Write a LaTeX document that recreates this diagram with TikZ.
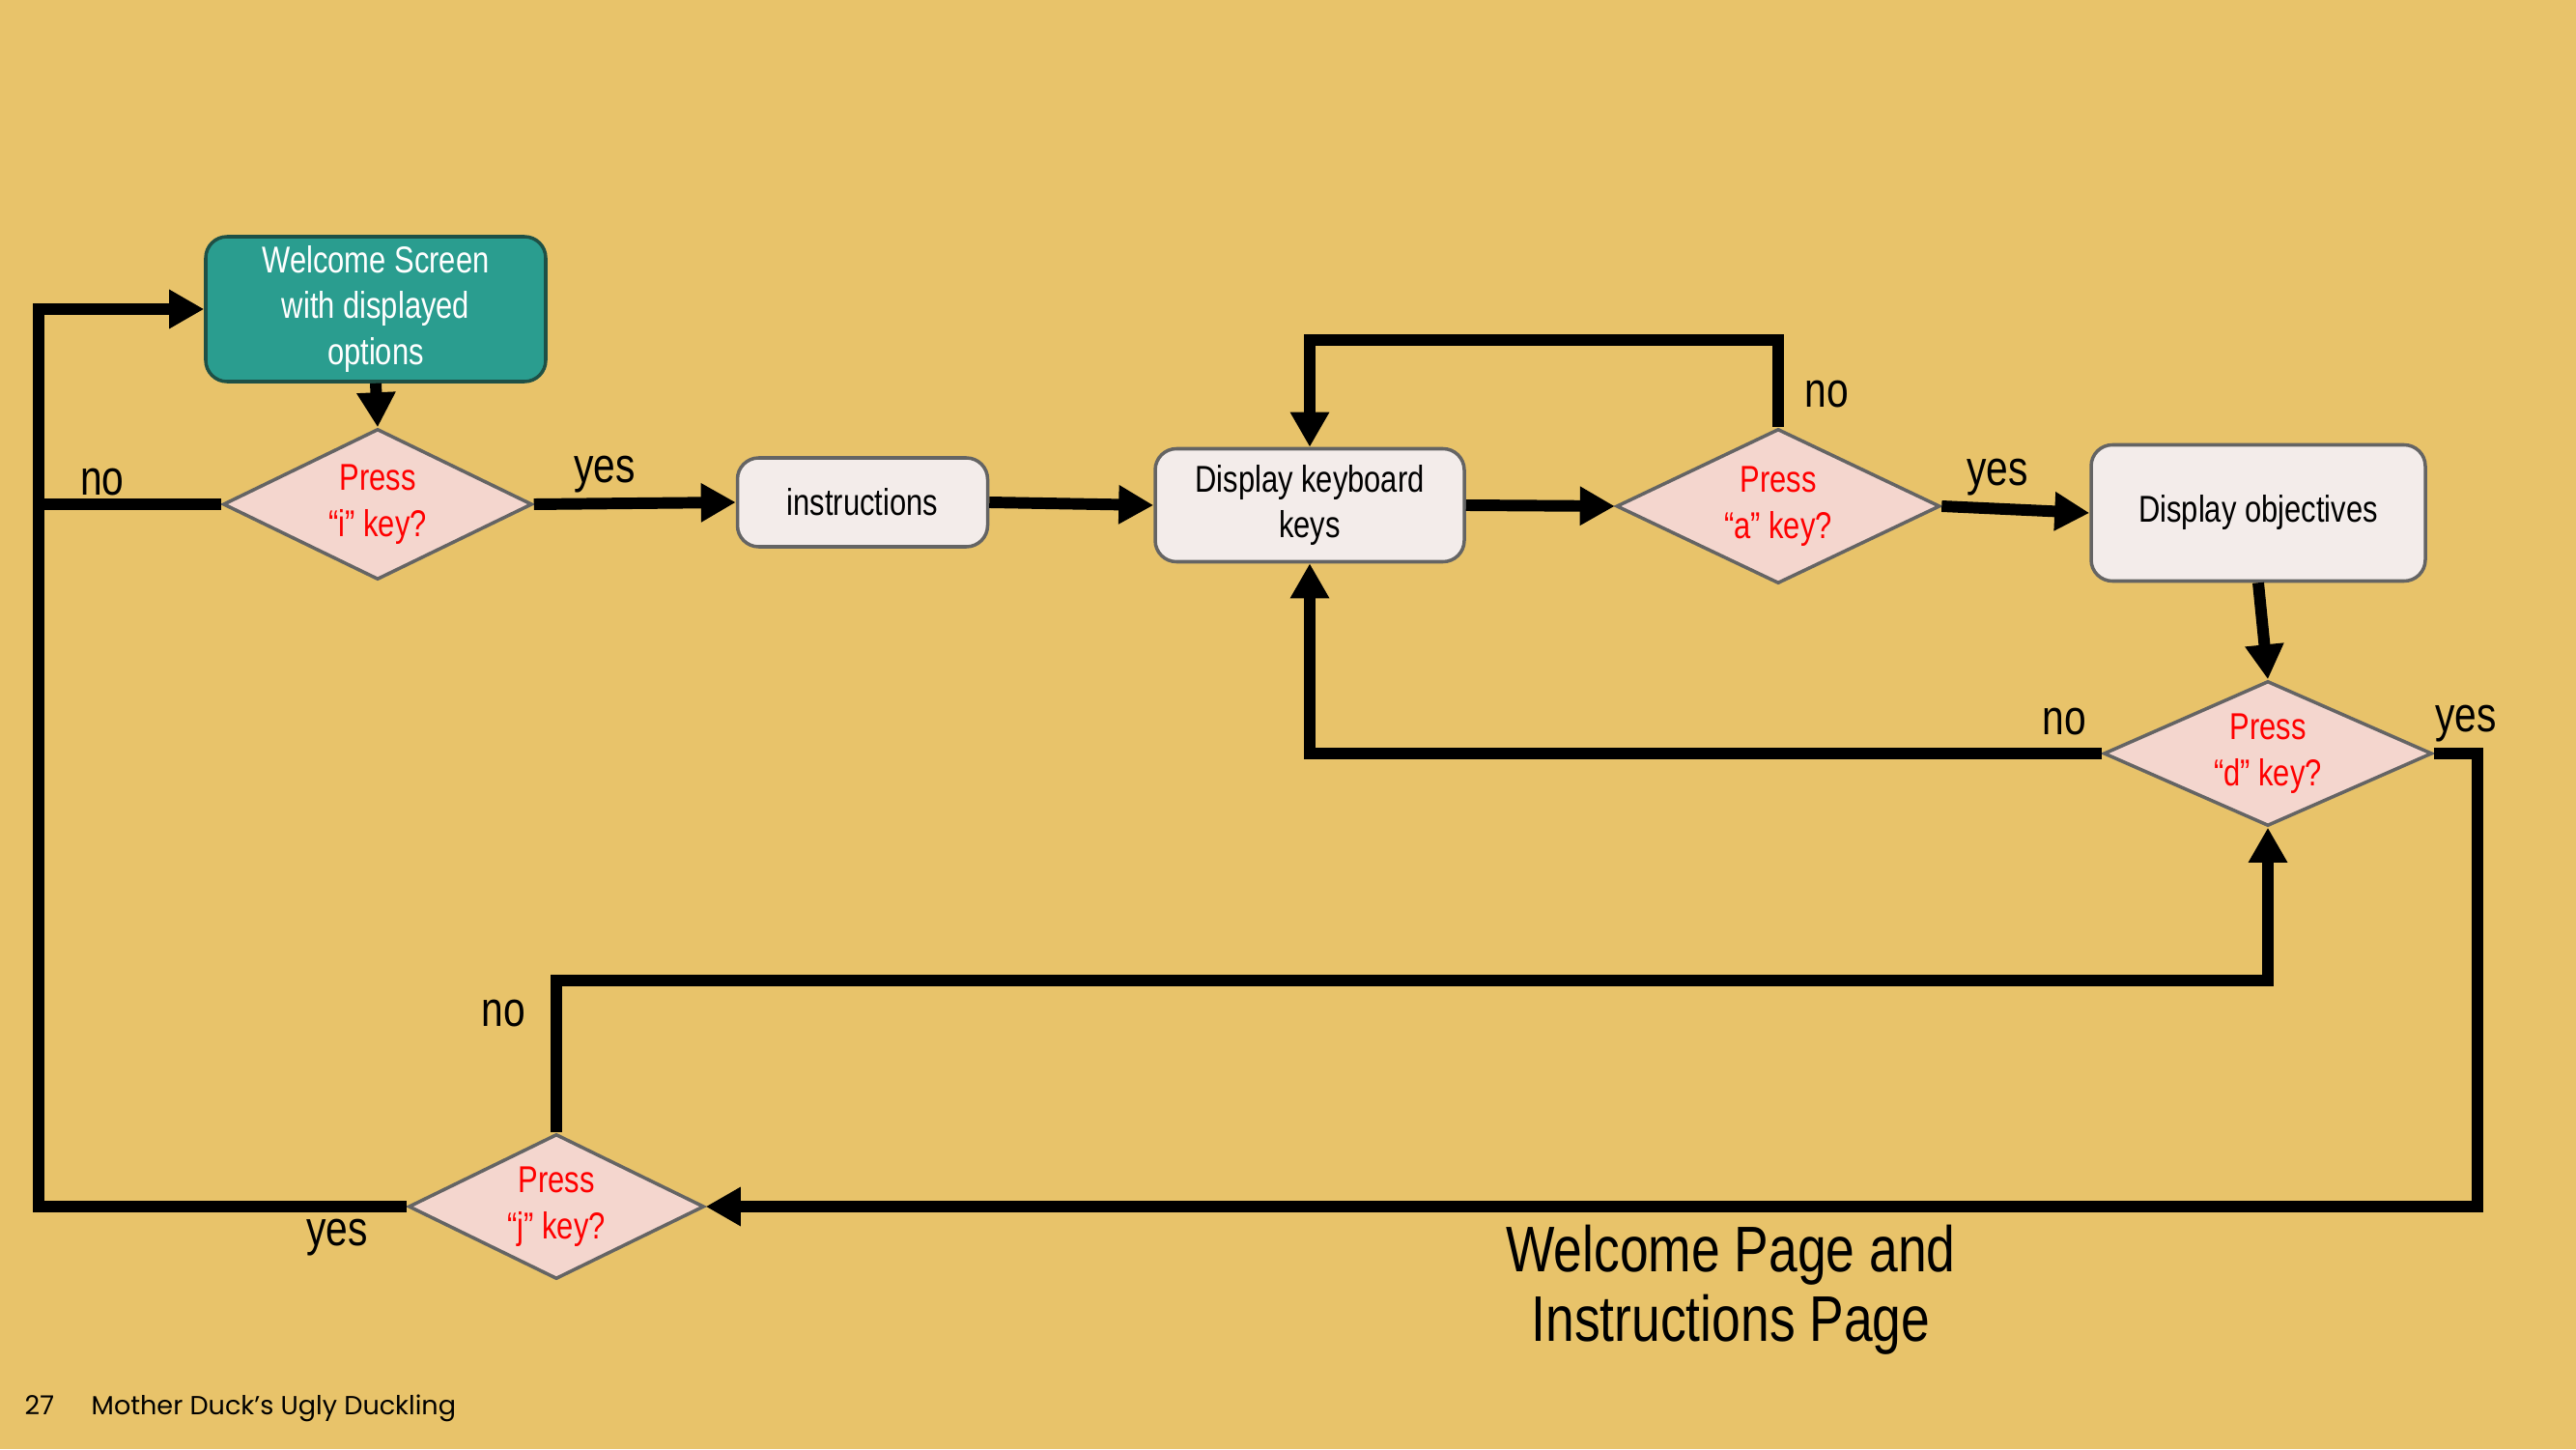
\documentclass[tikz,border=0pt]{standalone}
\usepackage{fontspec}
\setmainfont{Liberation Sans}[FakeStretch=0.8]
\newfontfamily\piedfont{Poppins}
\usetikzlibrary{arrows.meta,shapes.geometric}
\definecolor{fond}{RGB}{232,195,106}
\definecolor{gris}{RGB}{100,100,100}
\definecolor{sarcelle}{RGB}{42,157,143}
\definecolor{sarcellefonce}{RGB}{30,80,70}
\definecolor{cpale}{RGB}{243,236,234}
\definecolor{rose}{RGB}{244,214,206}

\begin{document}
\begin{tikzpicture}[>={Triangle[length=0.36cm,width=0.38cm]}]
	\tikzstyle{boite}=[rectangle, rounded corners=0.22cm, draw=gris, line width=1pt, fill=cpale, align=center, font=\fontsize{11}{13.6}\selectfont, inner sep=2pt]
	\tikzstyle{test}=[diamond, aspect=2, draw=gris, line width=1pt, fill=rose, text=red, align=center, font=\fontsize{11}{13.6}\selectfont, inner sep=0pt]
	\tikzstyle{fleche}=[->, line width=3.4pt]
	\tikzstyle{trait}=[line width=3.4pt]
	\tikzstyle{etiq}=[font=\fontsize{14.5}{16}\selectfont, inner sep=0pt]

	% FOND
	\fill[fond] (0,0) rectangle (26.67,15);
	\useasboundingbox (0,0) rectangle (26.67,15);

	% ETATS
	\node[boite, fill=sarcelle, draw=sarcellefonce, text=white, minimum width=3.52cm, minimum height=1.5cm] (W) at (3.89,11.80) {Welcome Screen\\with displayed\\options};
	\node[test, minimum width=3.2cm, minimum height=1.56cm] (Di) at (3.91,9.78) {Press\\“i” key?};
	\node[boite, minimum width=2.59cm, minimum height=0.92cm] (I) at (8.93,9.80) {instructions};
	\node[boite, minimum width=3.2cm, minimum height=1.17cm] (K) at (13.56,9.77) {Display keyboard\\keys};
	\node[test, minimum width=3.35cm, minimum height=1.6cm] (Da) at (18.41,9.76) {Press\\“a” key?};
	\node[boite, minimum width=3.46cm, minimum height=1.41cm] (O) at (23.38,9.69) {Display objectives};
	\node[test, minimum width=3.4cm, minimum height=1.5cm] (Dd) at (23.48,7.20) {Press\\“d” key?};
	\node[test, minimum width=3.06cm, minimum height=1.5cm] (Dj) at (5.76,2.51) {Press\\“j” key?};

	% RAILS
	\coordinate (G) at (0.40,0);
	\coordinate (Rd) at (25.65,0);
	\coordinate (Hh) at (0,11.48);
	\coordinate (Bb) at (0,4.85);

	% TRANSITIONS
	\path
		(W.south) edge[fleche] (Di.north)
		(Di.east) edge[fleche] (I.west)
		(I.east) edge[fleche] (K.west)
		(K.east) edge[fleche] (Da.west)
		(Da.east) edge[fleche] (O.west)
		(O.south) edge[fleche] (Dd.north)
	;
	\draw[fleche] (Da.north) -- (Da.north |- Hh) -| (K.north);
	\draw[fleche] (Dd.west) -| (K.south);
	\draw[fleche] (Dd.east) -- (Dd.east -| Rd) |- (Dj.east);
	\draw[fleche] (Dj.north) -- (Dj.north |- Bb) -| (Dd.south);
	\draw[fleche] (Dj.west) -- (Dj.west -| G) |- (W.west);
	\draw[trait] (Di.west) -- (Di.west -| G);

	% ETIQUETTES
	\node[etiq] (nI) at (1.06,10.01) {no};
	\node[etiq] (yI) at (6.26,10.09) {yes};
	\node[etiq] (nA) at (18.91,10.92) {no};
	\node[etiq] (yA) at (20.68,10.06) {yes};
	\node[etiq] (nD) at (21.37,7.53) {no};
	\node[etiq] (yD) at (25.53,7.51) {yes};
	\node[etiq] (nJ) at (5.21,4.51) {no};
	\node[etiq] (yJ) at (3.49,2.19) {yes};

	% TITRE
	\node[align=center, font=\fontsize{19}{20.4}\selectfont] (titre) at (17.92,1.65) {Welcome Page and\\Instructions Page};
	\node[anchor=base west, inner sep=0pt, font=\piedfont\fontsize{7.7}{9}\selectfont] (num) at (0.25,0.36) {27};
	\node[anchor=base west, inner sep=0pt, font=\piedfont\fontsize{7.7}{9}\selectfont] (pied) at (0.94,0.36) {Mother Duck’s Ugly Duckling};
\end{tikzpicture}
\end{document}
